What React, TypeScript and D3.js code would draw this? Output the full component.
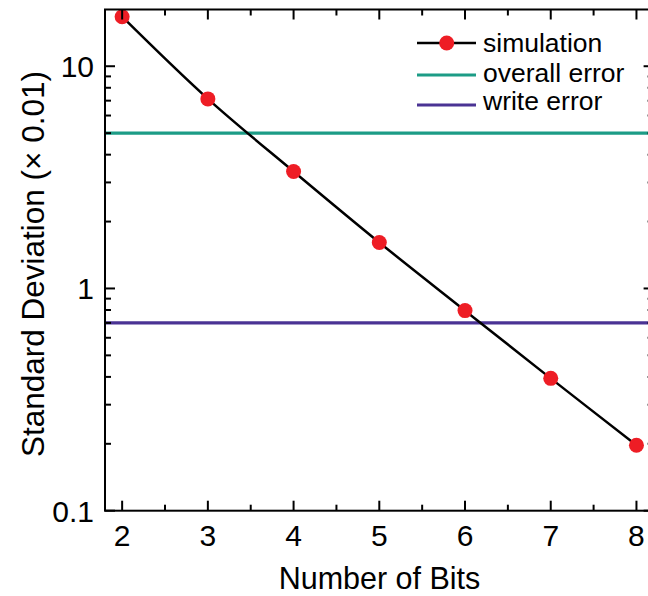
import React from "react";
import * as d3 from "d3";

// Simulated standard deviation (× 0.01) versus number of bits
const bits = [2, 3, 4, 5, 6, 7, 8];
const stdDev = [16.7, 7.13, 3.36, 1.61, 0.795, 0.394, 0.197];

// Reference error levels (× 0.01)
const overallError = 5.0;
const writeError = 0.7;

const xTickValues = [2, 3, 4, 5, 6, 7, 8];
const yTickValues = [0.1, 1, 10];
const yTickLabels = ["0.1", "1", "10"];

const legendItems = ["simulation", "overall error", "write error"];

const W = 648;
const H = 596;
const margin = { left: 105, right: 653.6, top: 9.5, bottom: 510.7 };

const RED = "#ee1d25";
const TEAL = "#1c9c86";
const PURPLE = "#4a3394";
const FONT = "'Liberation Sans', Arial, sans-serif";

export default function App() {
  const x = d3.scaleLinear().domain([1.8, 8.2]).range([margin.left, margin.right]);
  const y = d3.scaleLog().domain([0.1, 18]).range([margin.bottom, margin.top]);

  const pts = bits.map((b, i) => [b, stdDev[i]] as [number, number]);
  const line = d3
    .line<[number, number]>()
    .x((d) => x(d[0]))
    .y((d) => y(d[1]))
    .curve(d3.curveCatmullRom.alpha(0.5));

  // minor ticks on x: half steps
  const xMinor = d3.range(1.5, 8.5, 1).filter((v) => v > 1.8 && v < 8.2);
  // minor ticks on y: 2..9 of each decade
  const yMinor: number[] = [];
  [0.1, 1, 10].forEach((dec) => {
    for (let k = 2; k <= 9; k++) {
      const v = dec * k;
      if (v < 18) yMinor.push(v);
    }
  });

  const majorLen = 10;
  const minorLen = 6;

  return (
    <svg
      width={W}
      height={H}
      viewBox={`0 0 ${W} ${H}`}
      style={{ position: "absolute", left: 0, top: 0, background: "#fff" }}
    >
      <defs>
        <clipPath id="plot-clip">
          <rect
            x={margin.left}
            y={margin.top}
            width={margin.right - margin.left}
            height={margin.bottom - margin.top}
          />
        </clipPath>
      </defs>

      {/* reference error levels */}
      <g clipPath="url(#plot-clip)">
        <line
          x1={margin.left}
          x2={margin.right}
          y1={y(overallError)}
          y2={y(overallError)}
          stroke={TEAL}
          strokeWidth={3.2}
        />
        <line
          x1={margin.left}
          x2={margin.right}
          y1={y(writeError)}
          y2={y(writeError)}
          stroke={PURPLE}
          strokeWidth={3.2}
        />
        <path d={line(pts) || ""} fill="none" stroke="#000" strokeWidth={2.5} />
        {pts.map((p, i) => (
          <circle key={i} cx={x(p[0])} cy={y(p[1])} r={7.5} fill={RED} />
        ))}
      </g>

      {/* frame */}
      <rect
        x={margin.left}
        y={margin.top}
        width={margin.right - margin.left}
        height={margin.bottom - margin.top}
        fill="none"
        stroke="#000"
        strokeWidth={2}
      />

      {/* x ticks (bottom and top, inward) */}
      {xTickValues.map((v) => (
        <g key={`xt${v}`}>
          <line x1={x(v)} x2={x(v)} y1={margin.bottom} y2={margin.bottom - majorLen} stroke="#000" strokeWidth={2} />
          <line x1={x(v)} x2={x(v)} y1={margin.top} y2={margin.top + majorLen} stroke="#000" strokeWidth={2} />
          <text
            x={x(v)}
            y={margin.bottom + 35.5}
            textAnchor="middle"
            fontFamily={FONT}
            fontSize={30}
            fill="#000"
          >
            {v}
          </text>
        </g>
      ))}
      {xMinor.map((v) => (
        <g key={`xm${v}`}>
          <line x1={x(v)} x2={x(v)} y1={margin.bottom} y2={margin.bottom - minorLen} stroke="#000" strokeWidth={2} />
          <line x1={x(v)} x2={x(v)} y1={margin.top} y2={margin.top + minorLen} stroke="#000" strokeWidth={2} />
        </g>
      ))}

      {/* y ticks (left and right, inward) */}
      {yTickValues.map((v, i) => (
        <g key={`yt${v}`}>
          <line x1={margin.left} x2={margin.left + majorLen} y1={y(v)} y2={y(v)} stroke="#000" strokeWidth={2} />
          <line x1={margin.right} x2={margin.right - majorLen} y1={y(v)} y2={y(v)} stroke="#000" strokeWidth={2} />
          <text
            x={margin.left - 11}
            y={y(v)}
            dy="0.36em"
            textAnchor="end"
            fontFamily={FONT}
            fontSize={30}
            fill="#000"
          >
            {yTickLabels[i]}
          </text>
        </g>
      ))}
      {yMinor.map((v) => (
        <g key={`ym${v}`}>
          <line x1={margin.left} x2={margin.left + minorLen} y1={y(v)} y2={y(v)} stroke="#000" strokeWidth={2} />
          <line x1={margin.right} x2={margin.right - minorLen} y1={y(v)} y2={y(v)} stroke="#000" strokeWidth={2} />
        </g>
      ))}

      {/* axis titles */}
      <text
        x={379.5}
        y={589}
        textAnchor="middle"
        fontFamily={FONT}
        fontSize={30.5}
        fill="#000"
      >
        Number of Bits
      </text>
      <text
        transform={`translate(44,264) rotate(-90)`}
        textAnchor="middle"
        fontFamily={FONT}
        fontSize={31.5}
        fill="#000"
      >
        Standard Deviation (× 0.01)
      </text>

      {/* legend */}
      <g fontFamily={FONT} fontSize={26.5} fill="#000">
        <line x1={417} x2={476} y1={43} y2={43} stroke="#000" strokeWidth={2.5} />
        <circle cx={446.7} cy={43} r={7.5} fill={RED} />
        <text x={483} y={52}>{legendItems[0]}</text>
        <line x1={417} x2={476} y1={75} y2={75} stroke={TEAL} strokeWidth={3.2} />
        <text x={483} y={82}>{legendItems[1]}</text>
        <line x1={417} x2={476} y1={105} y2={105} stroke={PURPLE} strokeWidth={3.2} />
        <text x={483} y={110}>{legendItems[2]}</text>
      </g>
    </svg>
  );
}
